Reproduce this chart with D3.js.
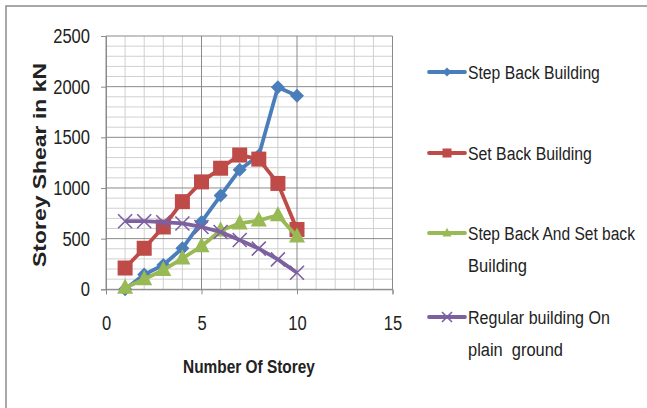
<!DOCTYPE html>
<html><head><meta charset="utf-8">
<script src="https://cdn.jsdelivr.net/npm/d3@7"></script>
<style>body{margin:0;background:#fff}svg{display:block}text{white-space:pre}</style>
</head><body><svg id="c" width="647" height="408"></svg>
<script>
const storeys = [1,2,3,4,5,6,7,8,9,10];
const stepBack = [0,145,240,405,665,925,1180,1320,1995,1910];
const setBack = [210,405,615,865,1060,1195,1325,1285,1045,590];
const stepSet = [15,100,190,305,425,580,650,680,730,520];
const regular = [672,672,662,650,615,566,486,402,295,163];
const xTicks = [0,5,10,15];
const yTicks = [0,500,1000,1500,2000,2500];
const seriesNames = [["Step Back Building"],["Set Back Building"],["Step Back And Set back","Building"],["Regular building On","plain  ground"]];

const svg = d3.select("#c");
const W = 647, H = 408;
svg.append("rect").attr("x",6).attr("y",6).attr("width",W).attr("height",H).attr("fill","#fff").attr("stroke","#8c8c8c").attr("stroke-width",1.5);

const x = d3.scaleLinear().domain([0,15]).range([106,392.5]);
const y = d3.scaleLinear().domain([0,2500]).range([289.3,36]);
const g = svg.append("g");

d3.range(0,15.01,1).forEach(v=>{ if(v%5) g.append("line").attr("x1",x(v)).attr("x2",x(v)).attr("y1",y(0)).attr("y2",y(2500)).attr("stroke","#d0d0d0").attr("stroke-width",1);});
d3.range(0,2501,100).forEach(v=>{ if(v%500) g.append("line").attr("x1",x(0)).attr("x2",x(15)).attr("y1",y(v)).attr("y2",y(v)).attr("stroke","#d0d0d0").attr("stroke-width",1);});
xTicks.forEach(v=>g.append("line").attr("x1",x(v)).attr("x2",x(v)).attr("y1",y(0)).attr("y2",y(2500)).attr("stroke","#8a8a8a").attr("stroke-width",1));
yTicks.forEach(v=>g.append("line").attr("x1",x(0)).attr("x2",x(15)).attr("y1",y(v)).attr("y2",y(v)).attr("stroke","#8a8a8a").attr("stroke-width",1));

const font = "'Liberation Sans', Arial, sans-serif";
const xAxis = d3.axisBottom(x).tickValues(xTicks).tickSize(5).tickPadding(22).tickFormat(d3.format("d"));
const yAxis = d3.axisLeft(y).tickValues(yTicks).tickSize(5).tickPadding(11).tickFormat(d3.format("d"));
const gx = svg.append("g").attr("transform",`translate(0,${y(0)})`).call(xAxis);
const gy = svg.append("g").attr("transform",`translate(${x(0)},0)`).call(yAxis);
[gx,gy].forEach(a=>{a.select(".domain").attr("stroke","#8a8a8a");a.selectAll(".tick line").attr("stroke","#8a8a8a");
  a.selectAll("text").attr("font-family",font).attr("font-size",20).attr("fill","#222")
   .attr("textLength",function(){return this.textContent.length*9.2;}).attr("lengthAdjust","spacingAndGlyphs");});

const colors = ["#4a7ebb","#be4b48","#98b954","#7d60a0"];
const data = [stepBack,setBack,stepSet,regular];
const line = d3.line().x((d,i)=>x(storeys[i])).y(d=>y(d));

function marker(sel,k,cx,cy,s){
  const c = colors[k];
  if(k===0) sel.append("path").attr("d",`M${cx},${cy-s}L${cx+s},${cy}L${cx},${cy+s}L${cx-s},${cy}Z`).attr("fill",c);
  else if(k===1) sel.append("rect").attr("x",cx-s).attr("y",cy-s).attr("width",2*s).attr("height",2*s).attr("fill",c);
  else if(k===2) sel.append("path").attr("d",`M${cx},${cy-s*1.15}L${cx+s},${cy+s*0.75}L${cx-s},${cy+s*0.75}Z`).attr("fill",c);
  else sel.append("path").attr("d",`M${cx-s},${cy-s}L${cx+s},${cy+s}M${cx-s},${cy+s}L${cx+s},${cy-s}`).attr("stroke",c).attr("stroke-width",1.6).attr("fill","none");
}
const sizes = [7,7.5,8,7];
data.forEach((vals,k)=>{
  const sg = svg.append("g");
  sg.append("path").datum(vals).attr("d",line).attr("fill","none").attr("stroke",colors[k]).attr("stroke-width",3.8).attr("stroke-linejoin","round");
  vals.forEach((v,i)=>marker(sg,k,x(storeys[i]),y(v),sizes[k]));
});

// fit a text horizontally to a target width via transform scale
function fitText(parent, tx, ty, str, size, width, bold){
  const t = parent.append("text").attr("font-family",font).attr("font-size",size).attr("fill","#222")
    .attr("font-weight",bold?"bold":null).text(str);
  const w = t.node().getComputedTextLength();
  t.attr("transform",`translate(${tx},${ty}) scale(${width/w},1)`);
  return t;
}

// legend
const ly = [72,153,233,317];
const lw = [[132],[124],[167,59],[142,95]];
seriesNames.forEach((lines,k)=>{
  const lg = svg.append("g");
  lg.append("line").attr("x1",429).attr("x2",465).attr("y1",ly[k]).attr("y2",ly[k]).attr("stroke",colors[k]).attr("stroke-width",3.8).attr("stroke-linecap","round");
  marker(lg,k,447,ly[k],k===3?5:4.5);
  lines.forEach((t,j)=>fitText(lg,468,ly[k]+7+j*31.5,t,19,lw[k][j],false));
});

fitText(svg,183,373,"Number Of Storey",19,132,true);
svg.append("text").attr("transform","translate(46,267) rotate(-90)").attr("font-family",font).attr("font-weight","bold").attr("font-size",18).attr("fill","#222")
  .attr("textLength",204).attr("lengthAdjust","spacingAndGlyphs").text("Storey Shear in kN");
</script></body></html>
